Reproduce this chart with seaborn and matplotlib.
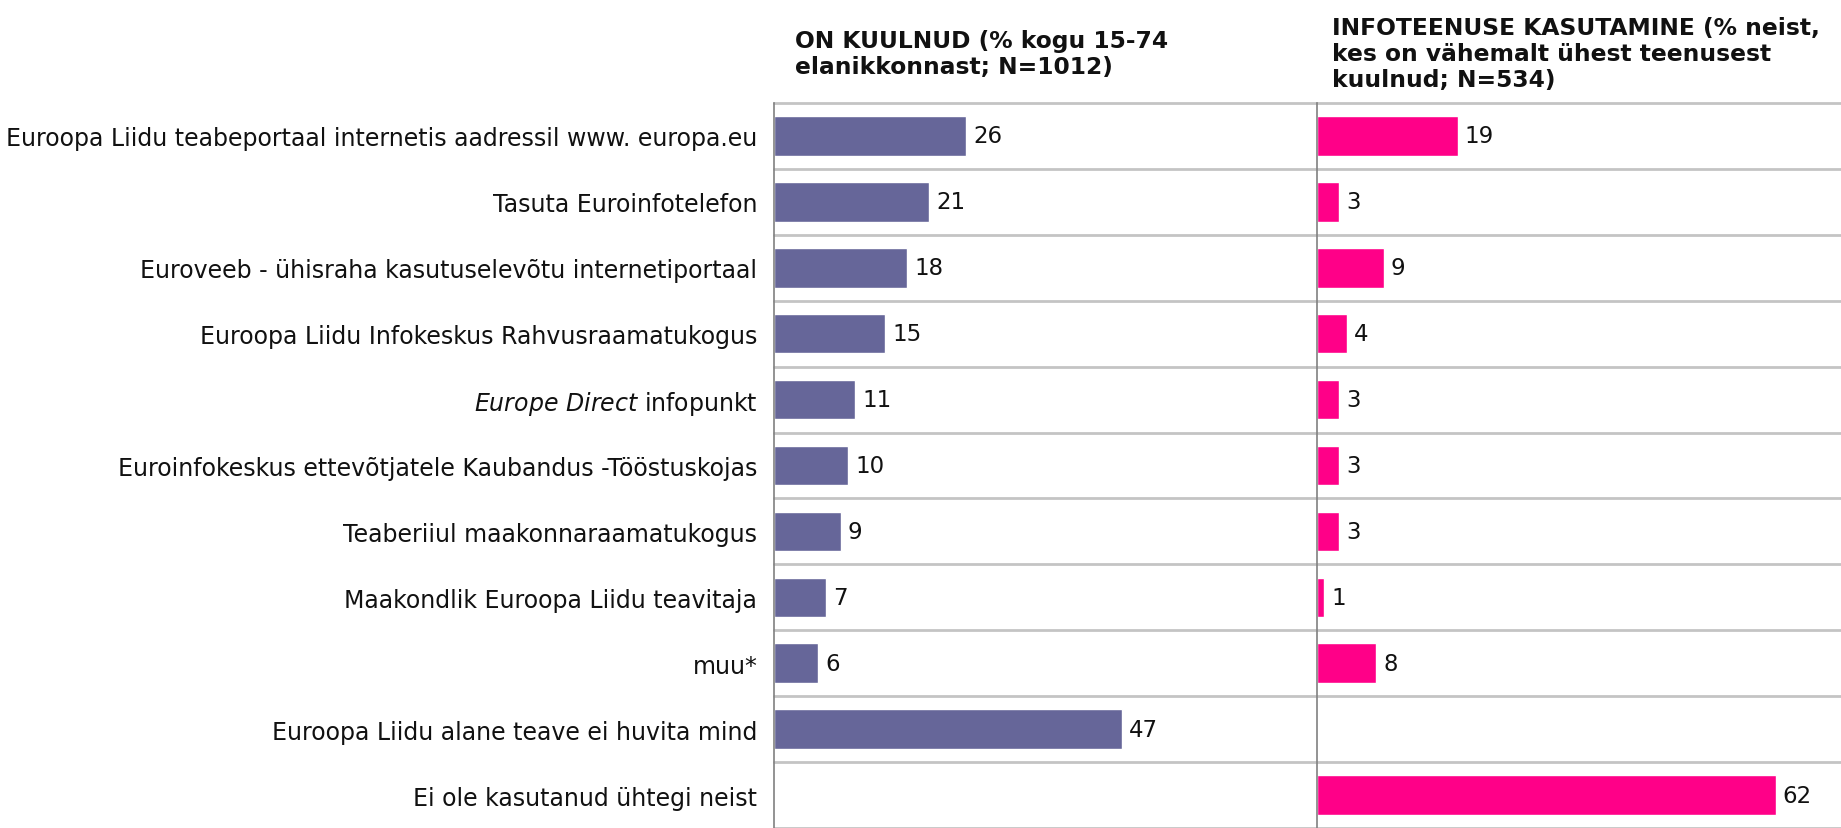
import matplotlib
import matplotlib.pyplot as plt
import numpy as np
import pandas as pd
import seaborn as sns

matplotlib.use('Agg')

CATEGORIES = [
    'Euroopa Liidu teabeportaal internetis aadressil www. europa.eu',
    'Tasuta Euroinfotelefon',
    'Euroveeb - ühisraha kasutuselevõtu internetiportaal',
    'Euroopa Liidu Infokeskus Rahvusraamatukogus',
    r'$\mathit{Europe\ Direct}$ infopunkt',
    'Euroinfokeskus ettevõtjatele Kaubandus -Tööstuskojas',
    'Teaberiiul maakonnaraamatukogus',
    'Maakondlik Euroopa Liidu teavitaja',
    'muu*',
    'Euroopa Liidu alane teave ei huvita mind',
    'Ei ole kasutanud ühtegi neist',
]
HEARD = [26, 21, 18, 15, 11, 10, 9, 7, 6, 47, np.nan]
USED = [19, 3, 9, 4, 3, 3, 3, 1, 8, np.nan, 62]

TITLE_HEARD = 'ON KUULNUD (% kogu 15-74\nelanikkonnast; N=1012)'
TITLE_USED = 'INFOTEENUSE KASUTAMINE (% neist,\nkes on vähemalt ühest teenusest\nkuulnud; N=534)'

PURPLE = '#666699'
PINK = '#ff0088'
GRID = '#c4c4c4'
SPINE = '#808080'
FS_LABEL = 17
FS_VALUE = 16.5
FS_TITLE = 16.8

sns.set_style('white')
plt.rcParams['font.family'] = ['DejaVu Sans']

W, H = 1841, 829
fig = plt.figure(figsize=(W / 100, H / 100), dpi=100)

x_left, x_mid = 774 / W, 1317 / W
top = 1 - 104 / H
ax1 = fig.add_axes([x_left, 0, x_mid - x_left, top])
ax2 = fig.add_axes([x_mid, 0, 1 - x_mid, top])


def _draw_panel(ax, values, color, xmax):
    df = pd.DataFrame({'cat': CATEGORIES, 'val': values}).dropna()
    sns.barplot(data=df, x='val', y='cat', order=CATEGORIES, ax=ax,
                color=color, orient='h', width=0.6, saturation=1, errorbar=None)
    container = ax.containers[0]
    labels = [f'{p.get_width():.0f}' for p in container]
    ax.bar_label(container, labels=labels, padding=5, fontsize=FS_VALUE, color='#111111')
    ax.set_xlim(0, xmax)
    ax.set_ylim(len(CATEGORIES) - 0.5, -0.5)
    ax.set_xlabel('')
    ax.set_ylabel('')
    ax.set_xticks([])
    for y in np.arange(len(CATEGORIES) + 1) - 0.5:
        ax.axhline(y, color=GRID, lw=2, zorder=0, clip_on=False)
    for side in ['top', 'right', 'bottom']:
        ax.spines[side].set_visible(False)
    ax.spines['left'].set_color(SPINE)
    ax.spines['left'].set_linewidth(1.2)


_draw_panel(ax1, HEARD, PURPLE, 543 / 7.4)
_draw_panel(ax2, USED, PINK, 524 / 7.4)

ax1.tick_params(axis='y', length=0, pad=12, labelsize=FS_LABEL, labelcolor='#111111')
ax2.set_yticks([])

# va='baseline' pins the last line of a multi-line text
fig.text(795 / W, 1 - 74 / H, TITLE_HEARD, ha='left', va='baseline',
         fontsize=FS_TITLE, fontweight='bold', linespacing=1.16, color='#111111')
fig.text(1332 / W, 1 - 87 / H, TITLE_USED, ha='left', va='baseline',
         fontsize=FS_TITLE, fontweight='bold', linespacing=1.16, color='#111111')

fig.savefig('out.png', dpi=100)
